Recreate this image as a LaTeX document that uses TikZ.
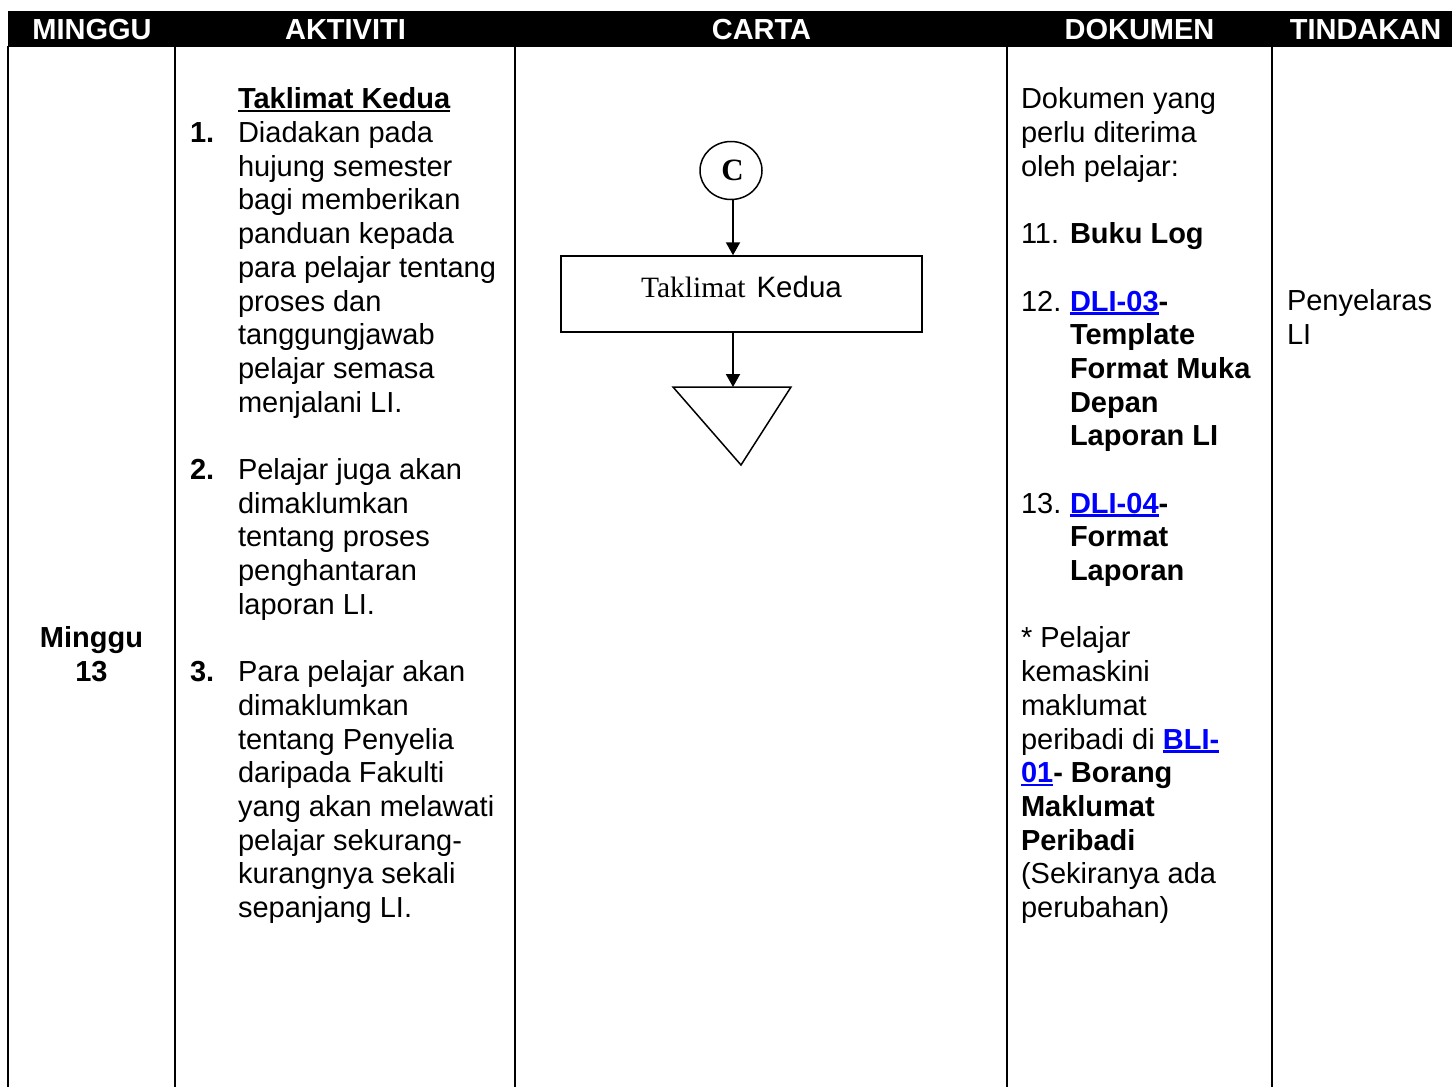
\documentclass[tikz,border=0pt]{standalone}
\usepackage{fontspec}
\setmainfont{Liberation Sans}
\newfontfamily\timesf{Liberation Serif}
\usetikzlibrary{arrows.meta,shapes.geometric}
\definecolor{linkblue}{RGB}{0,0,255}
\newcommand\ulbox[1]{\setbox0=\hbox{#1}\rlap{\rule[-3.6pt]{\wd0}{2.4pt}}\box0}
\newcommand\lnk[1]{{\color{linkblue}\ulbox{\bfseries #1}}}
\newcommand\numa[1]{\makebox[48pt][l]{\bfseries #1}}
\newcommand\inda{\hspace*{48pt}}
\newcommand\numd[1]{\makebox[49pt][l]{#1}}
\newcommand\indd{\hspace*{49pt}}
\begin{document}
\begin{tikzpicture}[x=1pt,y=-1pt,
  txt/.style={font=\fontsize{29}{33.7}\selectfont, inner sep=0pt, outer sep=0pt, align=left, anchor=north west},
  hdr/.style={font=\fontsize{29}{33.7}\selectfont\bfseries, text=white, inner sep=0pt, anchor=base},
  tline/.style={line width=1.6pt},
  flowbox/.style={draw, line width=1.5pt, minimum width=361pt, minimum height=76pt, inner sep=0pt,
                  font=\fontsize{29.5}{33.7}\selectfont, text height=20.8pt, text depth=14.8pt},
  conn/.style={draw, ellipse, line width=1.5pt, minimum width=62pt, minimum height=58pt, inner sep=0pt,
                  font=\fontsize{31}{34}\selectfont\timesf\bfseries},
  arr/.style={line width=2pt, -{Triangle[length=13pt,width=14pt]}}
]
\useasboundingbox (0,0) rectangle (1452,1087);
\fill[white] (0,0) rectangle (1452,1087);
% header bar
\fill[black] (8,11) rectangle (1452,47);
\node[hdr] (hmin) at (92,39) {MINGGU};
\node[hdr] (hakt) at (345.5,39) {AKTIVITI};
\node[hdr] (hcar) at (761.5,39) {CARTA};
\node[hdr] (hdok) at (1139.5,39) {DOKUMEN};
\node[hdr] (htin) at (1365.5,39) {TINDAKAN};
% table lines
\draw[tline] (8,46) -- (8,1087);
\draw[tline] (175,46) -- (175,1087);
\draw[tline] (515,46) -- (515,1087);
\draw[tline] (1007,46) -- (1007,1087);
\draw[tline] (1272,46) -- (1272,1087);
% column 1
\node[txt, align=center, anchor=north, font=\fontsize{29}{33.7}\selectfont\bfseries] (minggu) at (91.5,624.4) {\strut Minggu\\13};
% column 2
\node[txt] (aktiviti) at (190,85.2) {\strut\inda\ulbox{\bfseries Taklimat Kedua}\\
\numa{1.}Diadakan pada\\
\inda hujung semester\\
\inda bagi memberikan\\
\inda panduan kepada\\
\inda para pelajar tentang\\
\inda proses dan\\
\inda tanggungjawab\\
\inda pelajar semasa\\
\inda menjalani LI.\\[33.7pt]
\numa{2.}Pelajar juga akan\\
\inda dimaklumkan\\
\inda tentang proses\\
\inda penghantaran\\
\inda laporan LI.\\[33.7pt]
\numa{3.}Para pelajar akan\\
\inda dimaklumkan\\
\inda tentang Penyelia\\
\inda daripada Fakulti\\
\inda yang akan melawati\\
\inda pelajar sekurang-\\
\inda kurangnya sekali\\
\inda sepanjang LI.};
% column 3 flow chart
\node[conn] (c) at (731,170.5) {\hspace*{3pt}C};
\node[flowbox] (brief) at (741.5,294) {{\timesf Taklimat}\hspace{11pt}Kedua};
\coordinate (tritop) at (733,387);
\draw[line width=1.5pt, line join=miter] (673,387) -- (791,387) -- (741,465) -- cycle;
\draw[arr] (c.south -| 733,0) -- (733,0 |- brief.north);
\draw[arr] (733,0 |- brief.south) -- (tritop);
% column 4
\node[txt] (dokumen) at (1021,85.2) {\strut Dokumen yang\\
perlu diterima\\
oleh pelajar:\\[33.7pt]
\numd{11.}\textbf{Buku Log}\\[33.7pt]
\numd{12.}\lnk{DLI-03}\textbf{-}\\
\indd\textbf{Template}\\
\indd\textbf{Format Muka}\\
\indd\textbf{Depan}\\
\indd\textbf{Laporan LI}\\[33.7pt]
\numd{13.}\lnk{DLI-04}\textbf{-}\\
\indd\textbf{Format}\\
\indd\textbf{Laporan}\\[33.7pt]
* Pelajar\\
kemaskini\\
maklumat\\
peribadi di \lnk{BLI-}\\
\lnk{01}\textbf{- Borang}\\
\textbf{Maklumat}\\
\textbf{Peribadi}\\
(Sekiranya ada\\
perubahan)};
% column 5
\node[txt] (tindakan) at (1287,287.4) {\strut Penyelaras\\LI};
\end{tikzpicture}
\end{document}
